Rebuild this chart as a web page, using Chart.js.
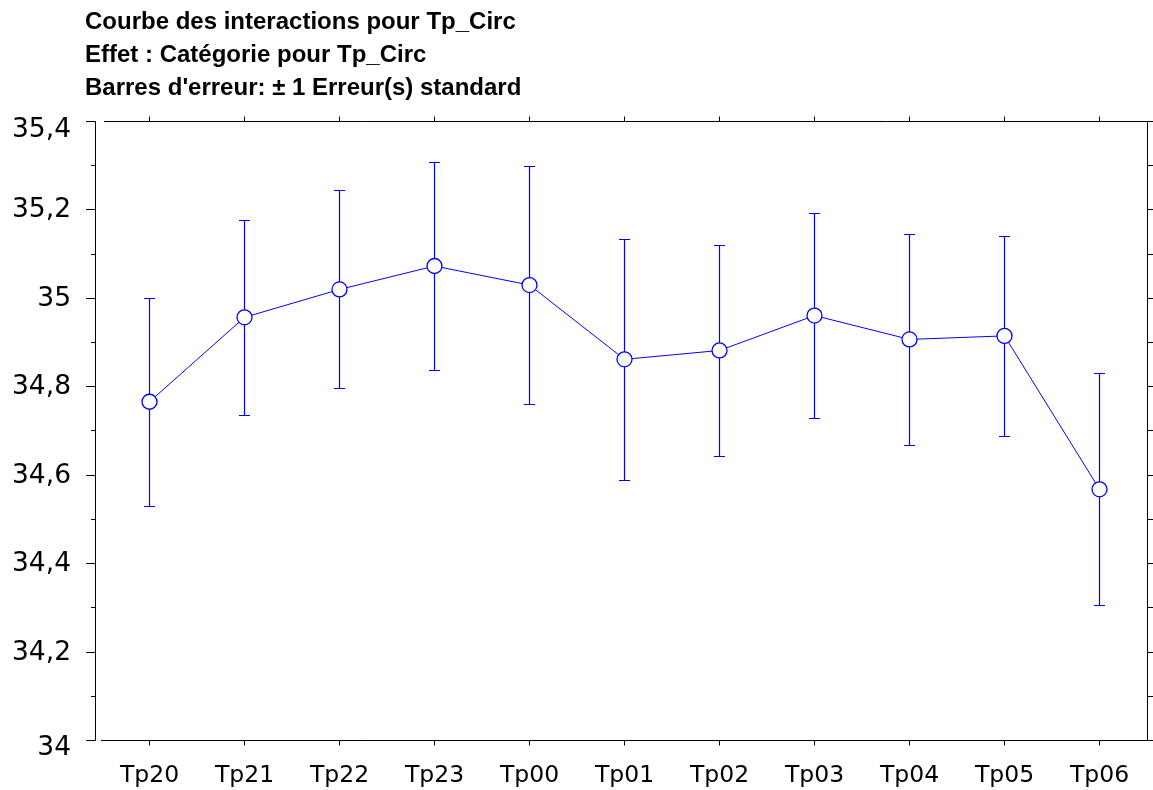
<!DOCTYPE html>
<html>
<head>
<meta charset="utf-8">
<script src="https://cdn.jsdelivr.net/npm/chart.js@4/dist/chart.umd.min.js"></script>
<style>
  html, body { margin: 0; padding: 0; background: #ffffff; }
  #wrap { width: 1153px; height: 790px; }
</style>
</head>
<body>
<div id="wrap"><canvas id="c" width="1153" height="790"></canvas></div>
<script>
// Interaction plot: mean of Tp_Circ per category, with ± 1 standard error bars
const titleLines = [
  'Courbe des interactions pour Tp_Circ',
  'Effet : Catégorie pour Tp_Circ',
  "Barres d'erreur: ± 1 Erreur(s) standard"
];
const categories = ['Tp20', 'Tp21', 'Tp22', 'Tp23', 'Tp00', 'Tp01', 'Tp02', 'Tp03', 'Tp04', 'Tp05', 'Tp06'];
const means      = [34.765, 34.956, 35.019, 35.072, 35.029, 34.861, 34.881, 34.960, 34.906, 34.914, 34.567];
const stdErrors  = [0.235, 0.221, 0.224, 0.236, 0.269, 0.272, 0.239, 0.232, 0.238, 0.227, 0.262];
const yTickValues = [34, 34.2, 34.4, 34.6, 34.8, 35, 35.2, 35.4];
const yMinorValues = [34.1, 34.3, 34.5, 34.7, 34.9, 35.1, 35.3];

const BLUE = '#0000ff';
const AXIS = '#000000';

function frLabel(v) {
  const r = Math.round(v * 10) / 10;
  return String(r).replace('.', ',');
}

const snap = v => Math.round(v) + 0.5;

const statPlotPlugin = {
  id: 'statPlot',
  // error bars sit under the markers
  beforeDatasetsDraw(chart) {
    const ctx = chart.ctx;
    const xs = chart.scales.x, ys = chart.scales.y;
    ctx.save();
    ctx.strokeStyle = BLUE;
    ctx.lineWidth = 1.2;
    means.forEach((m, i) => {
      const x = xs.getPixelForValue(i);
      const yTop = snap(ys.getPixelForValue(m + stdErrors[i]));
      const yBot = snap(ys.getPixelForValue(m - stdErrors[i]));
      ctx.beginPath();
      ctx.moveTo(x, yTop); ctx.lineTo(x, yBot);
      ctx.moveTo(x - 5.5, yTop); ctx.lineTo(x + 5.5, yTop);
      ctx.moveTo(x - 5.5, yBot); ctx.lineTo(x + 5.5, yBot);
      ctx.stroke();
    });
    ctx.restore();
  },
  afterDraw(chart) {
    const ctx = chart.ctx;
    const a = chart.chartArea;
    const xs = chart.scales.x, ys = chart.scales.y;
    const top = snap(a.top), bottom = snap(a.bottom), right = snap(a.right);
    const axisX = 95.5;
    ctx.save();
    ctx.strokeStyle = AXIS;
    ctx.lineWidth = 1;
    ctx.beginPath();
    // detached value axis on the left
    ctx.moveTo(axisX, top); ctx.lineTo(axisX, bottom);
    // frame
    ctx.moveTo(a.left + 2, top); ctx.lineTo(right, top);
    ctx.moveTo(a.left - 1, bottom); ctx.lineTo(right, bottom);
    ctx.moveTo(right, top); ctx.lineTo(right, bottom);
    // major / minor ticks on the value axis, ticks on the right edge
    yTickValues.forEach(v => {
      const y = snap(ys.getPixelForValue(v));
      ctx.moveTo(86, y); ctx.lineTo(axisX, y);
      ctx.moveTo(right, y); ctx.lineTo(right + 6, y);
    });
    yMinorValues.forEach(v => {
      const y = snap(ys.getPixelForValue(v));
      ctx.moveTo(91, y); ctx.lineTo(axisX, y);
      ctx.moveTo(right, y); ctx.lineTo(right + 6, y);
    });
    // category ticks on top and bottom edges
    categories.forEach((c, i) => {
      const x = Math.floor(xs.getPixelForValue(i)) + 0.5;
      ctx.moveTo(x, top); ctx.lineTo(x, top - 5);
      ctx.moveTo(x, bottom); ctx.lineTo(x, bottom + 5);
    });
    ctx.stroke();

    // value labels
    ctx.fillStyle = '#000';
    ctx.font = '26.5px "DejaVu Sans"';
    ctx.textAlign = 'right';
    ctx.textBaseline = 'alphabetic';
    yTickValues.forEach((v, i) => {
      const y = ys.getPixelForValue(v);
      let base = y + 8;
      if (i === yTickValues.length - 1) base = y + 16;
      if (i === 0) base = y + 15;
      ctx.fillText(frLabel(v), 71, base);
    });

    // category labels
    ctx.font = '23.5px "DejaVu Sans"';
    ctx.textAlign = 'center';
    categories.forEach((c, i) => {
      ctx.fillText(c, xs.getPixelForValue(i), 782);
    });

    // title block
    ctx.font = 'bold 24px "Liberation Sans"';
    ctx.textAlign = 'left';
    titleLines.forEach((t, i) => ctx.fillText(t, 85, 29 + i * 33));
    ctx.restore();
  }
};

new Chart(document.getElementById('c'), {
  type: 'line',
  data: {
    labels: categories,
    datasets: [{
      data: means,
      borderColor: BLUE,
      borderWidth: 1,
      pointRadius: 7.5,
      pointHoverRadius: 7.5,
      pointBackgroundColor: '#ffffff',
      pointBorderColor: BLUE,
      pointBorderWidth: 1.3,
      tension: 0,
      fill: false,
      clip: false
    }]
  },
  options: {
    responsive: false,
    animation: false,
    devicePixelRatio: 1,
    events: [],
    layout: { autoPadding: false, padding: { top: 121, right: 6, left: 0, bottom: 0 } },
    plugins: { legend: { display: false }, title: { display: false }, tooltip: { enabled: false } },
    scales: {
      x: {
        type: 'category',
        offset: true,
        grid: { display: false, drawTicks: false },
        border: { display: false },
        ticks: { display: false },
        afterFit: s => { s.height = 50; }
      },
      y: {
        min: 34,
        max: 35.4,
        grid: { display: false, drawTicks: false },
        border: { display: false },
        ticks: { display: false, stepSize: 0.2 },
        afterFit: s => { s.width = 102; }
      }
    }
  },
  plugins: [statPlotPlugin]
});
</script>
</body>
</html>
